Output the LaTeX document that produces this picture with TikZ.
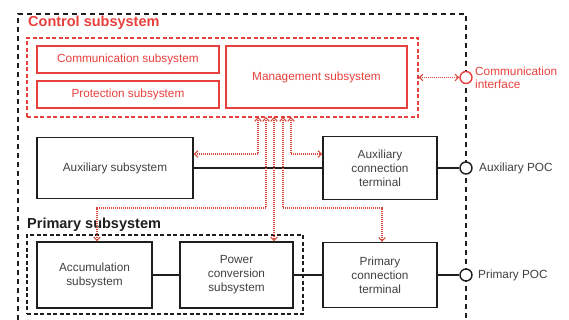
\documentclass[tikz,border=0pt]{standalone}
\usepackage{fontspec}
\setmainfont{Liberation Sans}
\usetikzlibrary{arrows.meta}
\definecolor{ctrlred}{RGB}{232,64,60}
\definecolor{arrred}{RGB}{214,72,60}
\definecolor{txtgray}{RGB}{64,64,64}
\definecolor{linegray}{RGB}{30,30,30}
\tikzset{%
  rbox/.style={draw=ctrlred,line width=1.3pt,text=ctrlred,inner sep=2pt,align=center},
  kbox/.style={draw=linegray,line width=1.4pt,text=txtgray,inner sep=2pt,align=center},
  rpoc/.style={draw=ctrlred,shape=circle,fill=white,line width=1.4pt,minimum size=12pt,inner sep=0},
  kpoc/.style={draw=linegray,shape=circle,fill=white,line width=1.4pt,minimum size=12pt,inner sep=0},
  rdashbox/.style={draw=ctrlred,line width=1.2pt,dash pattern=on 4pt off 2.5pt,inner sep=0},
  kdashbox/.style={draw=linegray,line width=1.3pt,dash pattern=on 4pt off 2.5pt,inner sep=0},
  kframe/.style={draw=linegray,line width=1.5pt,dash pattern=on 5pt off 4pt},
  dotlink/.style={draw=arrred,line width=1.1pt,dash pattern=on 1pt off 1pt},
  wire/.style={draw=linegray,line width=1.4pt},
  headline/.style={anchor=west,inner sep=0,font=\bfseries\fontsize{14.5}{17}\selectfont},
  poclabel/.style={anchor=west,inner sep=0,align=left}
}

\begin{document}
\begin{tikzpicture}[x=1pt,y=-1pt,>={Straight Barb[length=3.5pt,width=6.5pt,line width=1.1pt]},font=\fontsize{11.8}{14}\selectfont]
  \useasboundingbox (0,0) rectangle (569,320);
  % outer frame, open at the bottom
  \draw[kframe] (18,320) -- (18,14) -- (466,14) -- (466,320);
  % control subsystem
  \node[headline,text=ctrlred] (ctrl_t) at (28,23) {Control subsystem};
  \node[rdashbox,minimum width=391pt,minimum height=79pt] (ctrl) at (222.5,77.5) {};
  \path
    (128,59.5) node[rbox,minimum width=182pt,minimum height=27pt] (comm) {Communication subsystem}
    (128,94.5) node[rbox,minimum width=182pt,minimum height=27pt] (prot) {Protection subsystem}
    (316.5,77) node[rbox,minimum width=181pt,minimum height=62pt] (mgmt) {Management subsystem};
  \node[rpoc] (ci) at (466,77.5) {};
  \node[poclabel,text=ctrlred] (ci_l) at (475,77.5) {Communication\\[-1pt]interface};
  % auxiliary row
  \path
    (115,168) node[kbox,minimum width=156pt,minimum height=61pt] (aux) {Auxiliary subsystem}
    (380,168) node[kbox,minimum width=114pt,minimum height=63pt] (act) {Auxiliary\\connection\\terminal};
  \node[kpoc] (apoc) at (466,168) {};
  \node[poclabel,text=txtgray] (apoc_l) at (479,168) {Auxiliary POC};
  % primary subsystem
  \node[headline,text=linegray] (prim_t) at (27,225) {Primary subsystem};
  \node[kdashbox,minimum width=276pt,minimum height=79pt] (prim) at (165,274.5) {};
  \path
    (94.5,275) node[kbox,minimum width=115pt,minimum height=66pt] (acc) {Accumulation\\subsystem}
    (236.5,275) node[kbox,minimum width=113pt,minimum height=66pt] (pcs) {Power\\conversion\\subsystem}
    (380,275) node[kbox,minimum width=114pt,minimum height=65pt] (pct) {Primary\\connection\\terminal};
  \node[kpoc] (ppoc) at (466,275) {};
  \node[poclabel,text=txtgray] (ppoc_l) at (478,275) {Primary POC};
  % power wiring
  \draw[wire] (aux) -- (act) -- (apoc);
  \draw[wire] (acc) -- (pcs) -- (pct) -- (ppoc);
  % control links
  \path
    (258,117) coordinate (u_1)
    (266,117) coordinate (u_2)
    (274,117) coordinate (u_3)
    (283,117) coordinate (u_4)
    (291,117) coordinate (u_5)
    (0,208) coordinate (bend);
  \draw[dotlink,<->] (ctrl.east) -- (ci.west);
  \draw[dotlink,<->] (u_1) |- ([yshift=14pt]aux.east);
  \draw[dotlink,<->] (u_5) |- ([yshift=14pt]act.west);
  \draw[dotlink,<->] (u_3) -- (u_3 |- pcs.north);
  \draw[dotlink,<->] (u_2) -- (u_2 |- bend) -| ([xshift=2.5pt]acc.north);
  \draw[dotlink,<->] (u_4) -- (u_4 |- bend) -| ([xshift=2pt]pct.north);
\end{tikzpicture}
\end{document}
